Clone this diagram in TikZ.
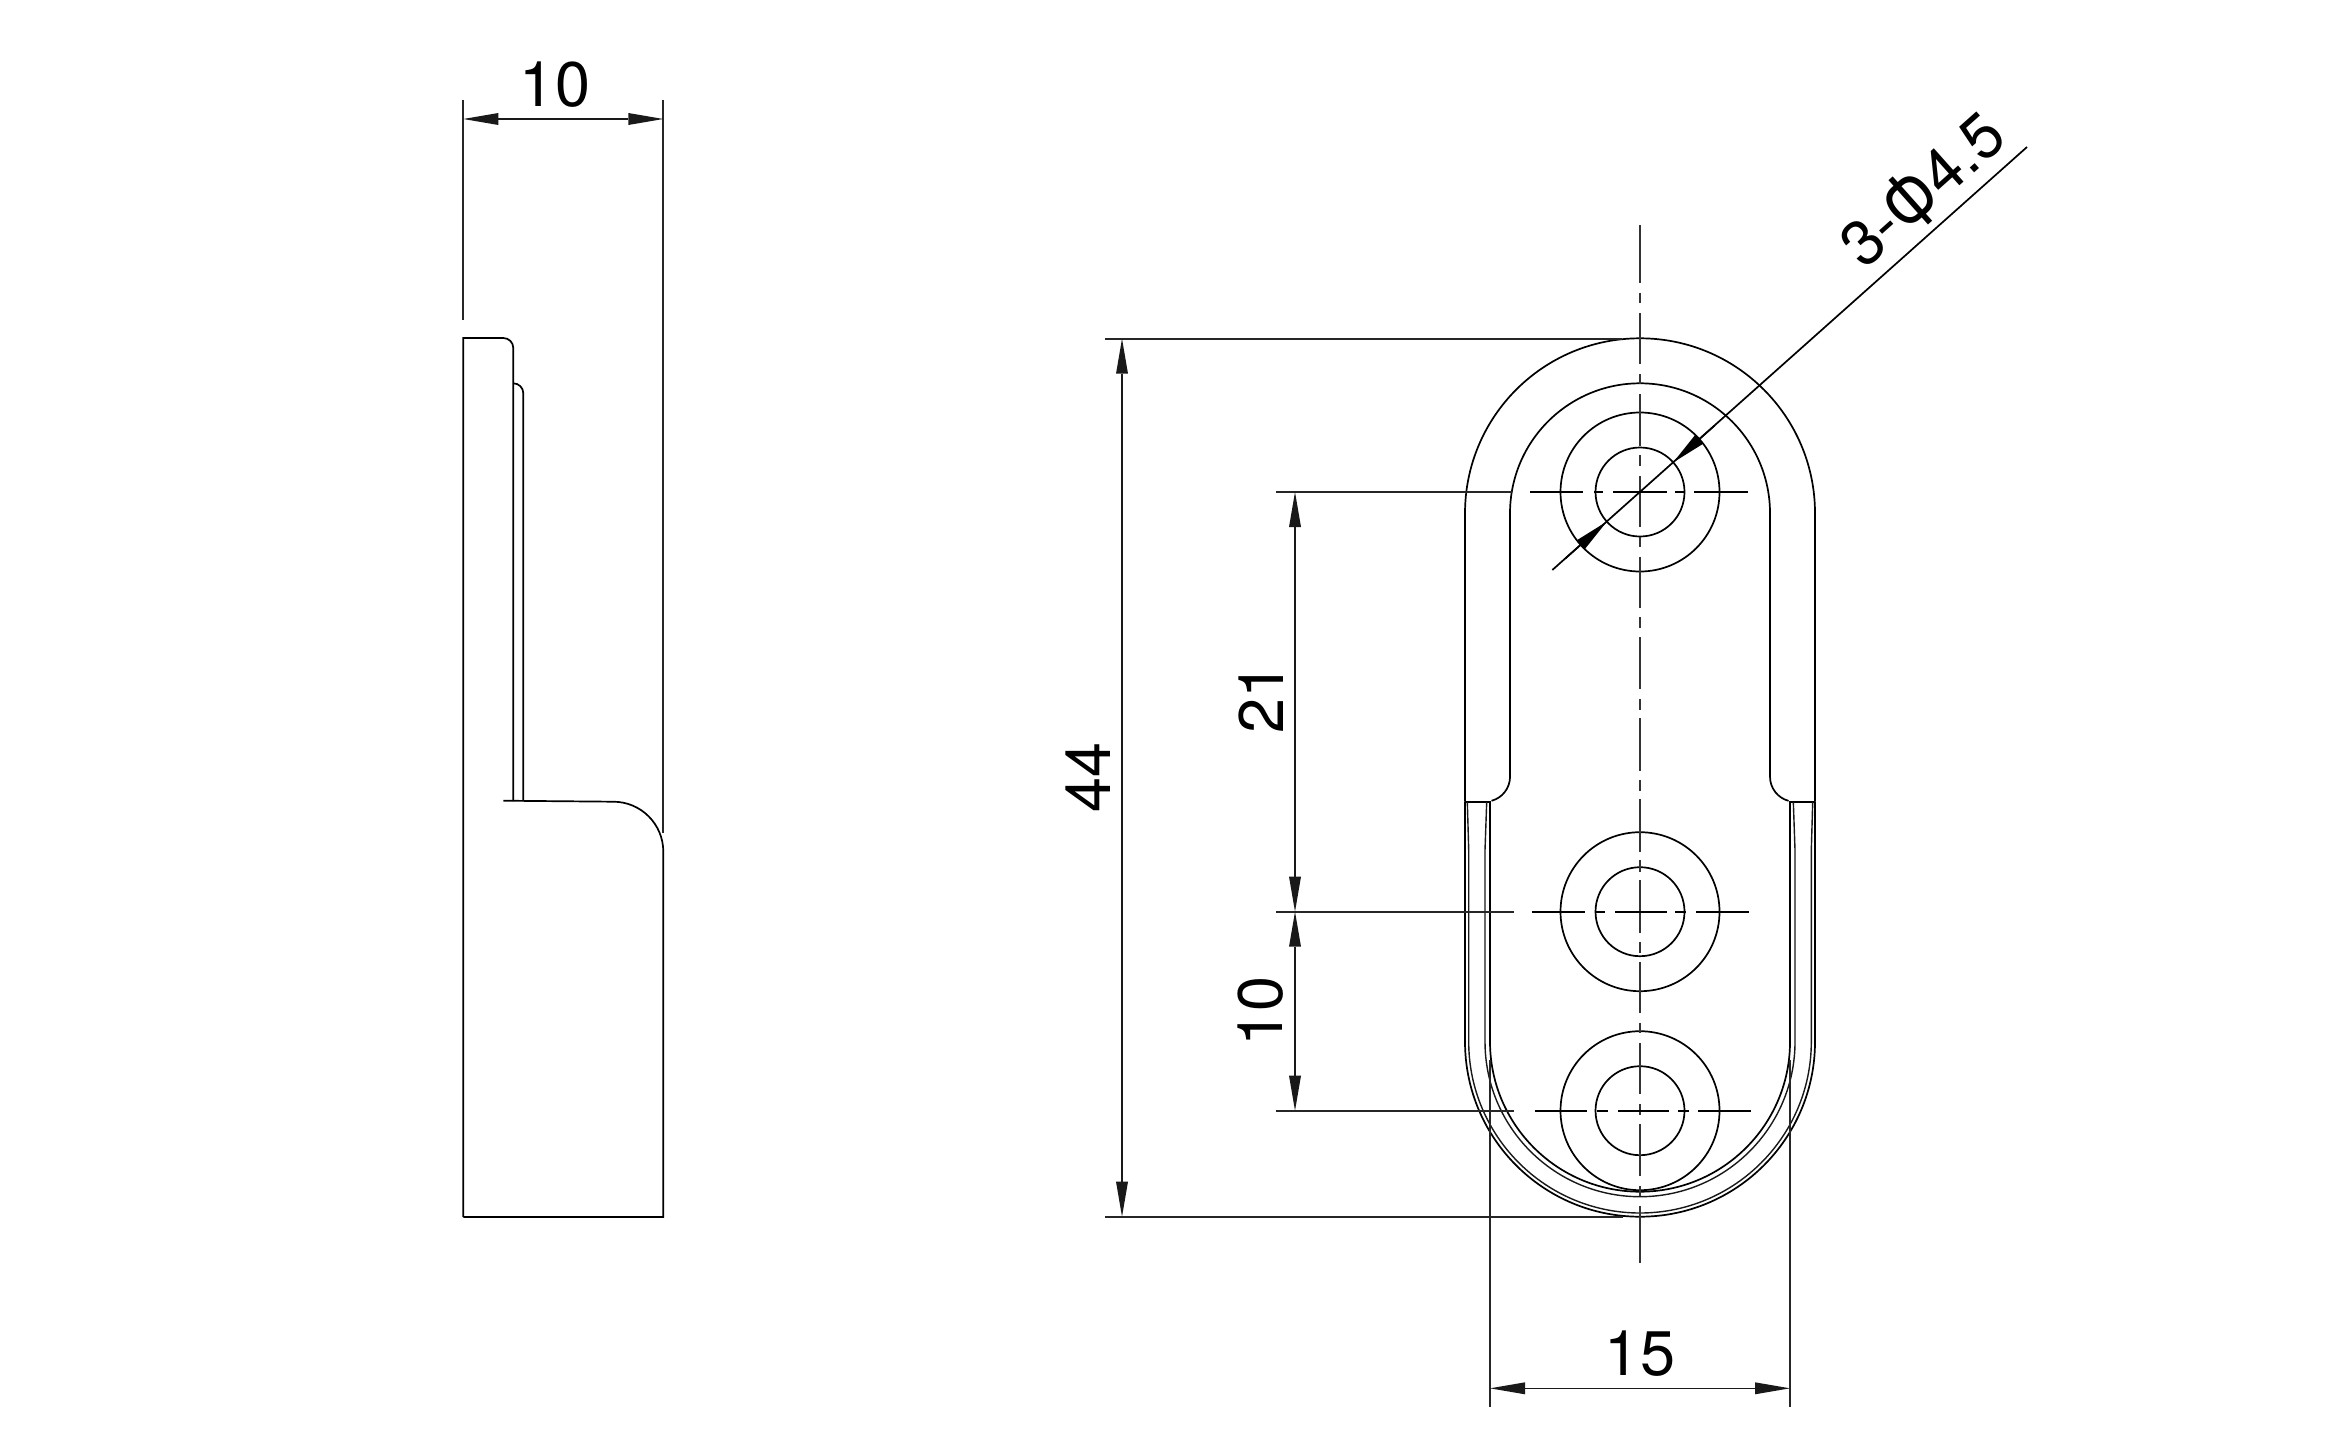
\documentclass[tikz,border=0pt]{standalone}
\usepackage{fontspec}
\usepackage{graphicx}
\setmainfont{TeX Gyre Heros}
\newfontfamily\diafont{Liberation Sans}
\usetikzlibrary{arrows.meta}
\tikzset{
  x=1pt,y=-1pt,
  part/.style={line width=1.7pt,black},
  thinline/.style={line width=1.4pt,black!90},
  centerline/.style={line width=1.9pt,black!80},
  dimline/.style={line width=1.6pt,black!90,{Triangle[length=35pt,width=12pt,line width=0pt]}-{Triangle[length=35pt,width=12pt,line width=0pt]}},
  oneTip/.style={line width=1.6pt,black,-{Triangle[length=35pt,width=12pt,line width=0pt]}},
  extline/.style={line width=1.7pt,black!85},
  dimlabel/.style={inner sep=0pt,font=\fontsize{63}{70}\selectfont}
}
\begin{document}
\begin{tikzpicture}
\useasboundingbox[fill=white] (0,0) rectangle (2325,1453);

% --- side view ---
\draw[part] (463.3,1217) -- (463.3,338) -- (503.3,338) arc[start angle=90,end angle=0,radius=10pt] -- (513.3,801);
\draw[part] (513.3,383.3) arc[start angle=90,end angle=0,radius=10pt] -- (523.3,801);
\draw[part] (503.3,800.7) -- (613.3,801.7) arc[start angle=90,end angle=0,radius=50pt] -- (663.3,1217) -- (463.3,1217);
\coordinate (sideL) at (463.3,119);
\coordinate (sideR) at (663.3,119);
\draw[extline] (463.3,100) -- (463.3,320);
\draw[extline] (663.3,100) -- (663.3,833);
\draw[dimline] (sideL) -- (sideR);
\node[dimlabel] (dimSide) at (555,85) {10};

% --- front view: upper ring ---
\draw[part] (1465,801.7) -- (1465,513.3) arc[start angle=180,end angle=0,radius=175pt] -- (1815,801.7);
\draw[part] (1465,801.7) -- (1491,801.7);
\draw[part] (1789,801.7) -- (1815,801.7);
\draw[part] (1491.5,800.8) arc[start angle=-75,end angle=0,radius=25pt] -- (1510,513.3) arc[start angle=180,end angle=0,radius=130pt] -- (1770,776.7) arc[start angle=180,end angle=255,radius=25pt];

% --- front view: lower rim ---
\draw[part] (1465,801.7) -- (1465,1041.7) arc[start angle=180,end angle=360,radius=175pt] -- (1815,801.7);
\draw[thinline] (1467.3,801.7) -- (1468.7,850) -- (1468.7,1041.7) arc[start angle=180,end angle=360,radius=171.3pt] -- (1811.3,850) -- (1812.7,801.7);
\draw[thinline] (1486.7,801.7) -- (1485,850) -- (1485,1041.7) arc[start angle=180,end angle=360,radius=155pt] -- (1795,850) -- (1793.3,801.7);
\draw[part] (1490,801.7) -- (1490,1041.7) arc[start angle=180,end angle=360,radius=150pt] -- (1790,801.7);

% --- holes ---
\foreach \cy in {492,911.7,1110.7}{
  \draw[part] (1640,\cy) circle[radius=79.5pt];
  \draw[part] (1640,\cy) circle[radius=44.5pt];
}

% --- centre lines ---
\foreach \a/\b in {225/282.7,292.7/303.3,313.3/364,374/384,394/446,455/466,476/526.7,536.7/547.3,556.7/608,617.3/628.3,637.3/689.3,699.3/710,718.3/770.7,780/790.7,799.3/851.7,860/871.7,880/932.7,941.7/952.7,961.7/1013.3,1022.7/1033.3,1043.3/1094,1104/1115,1124/1175.7,1185.7/1196,1205.7/1263.3}{
  \draw[centerline] (1640,\a) -- (1640,\b);
}
\foreach \a/\b in {1530/1583.3,1594/1603,1613/1666.7,1675/1685,1694/1748}{
  \draw[part] (\a,492) -- (\b,492);
}
\foreach \a/\b in {1531.7/1585,1595/1605,1615/1666.7,1675/1686,1696/1749.3}{
  \draw[part] (\a,911.7) -- (\b,911.7);
}
\foreach \a/\b in {1535/1587.3,1596.7/1607.7,1617.7/1669.3,1678/1689.3,1698/1750.7}{
  \draw[part] (\a,1110.7) -- (\b,1110.7);
}

% --- extension lines ---
\draw[extline] (1105,338.7) -- (1622,338.7);
\draw[extline] (1105,1216.7) -- (1622.7,1216.7);
\draw[extline] (1276,492) -- (1512,492);
\draw[extline] (1276,911.7) -- (1514,911.7);
\draw[extline] (1276,1110.7) -- (1514,1110.7);
\draw[extline] (1490,1060) -- (1490,1407);
\draw[extline] (1790,1060) -- (1790,1407);

% --- dimensions ---
\coordinate (d44a) at (1122,338.7);
\coordinate (d44b) at (1122,1216.7);
\coordinate (d21a) at (1295,492);
\coordinate (d21b) at (1295,911.7);
\coordinate (d10b) at (1295,1110.7);
\coordinate (d15a) at (1490,1388.3);
\coordinate (d15b) at (1790,1388.3);
\draw[dimline] (d44a) -- (d44b);
\draw[dimline] (d21a) -- (d21b);
\draw[dimline] (d21b) -- (d10b);
\draw[dimline] (d15a) -- (d15b);
\node[dimlabel,rotate=90] (dim44) at (1088,777) {44};
\node[dimlabel,rotate=90] (dim21) at (1261,698) {21};
\node[dimlabel,rotate=90] (dim10) at (1261,1011) {10};
\node[dimlabel] (dim15) at (1640,1354) {15};

% --- diameter leader ---
\coordinate (leadA) at (1552.3,570);
\coordinate (leadB) at (2027,147);
\coordinate (tipU) at (1673.2,462.4);
\coordinate (tipL) at (1606.8,521.6);
\coordinate (tailU) at (1714.7,425.5);
\coordinate (tailL) at (1565.3,558.5);
\draw[part] (leadA) -- (leadB);
\draw[oneTip] (tailU) -- (tipU);
\draw[oneTip] (tailL) -- (tipL);
\node[dimlabel,rotate=41.7] (dimDia) at (1923,190) {3-\raisebox{-8pt}{\scalebox{1}[1.35]{\diafont Φ}}4.5};
\end{tikzpicture}
\end{document}
